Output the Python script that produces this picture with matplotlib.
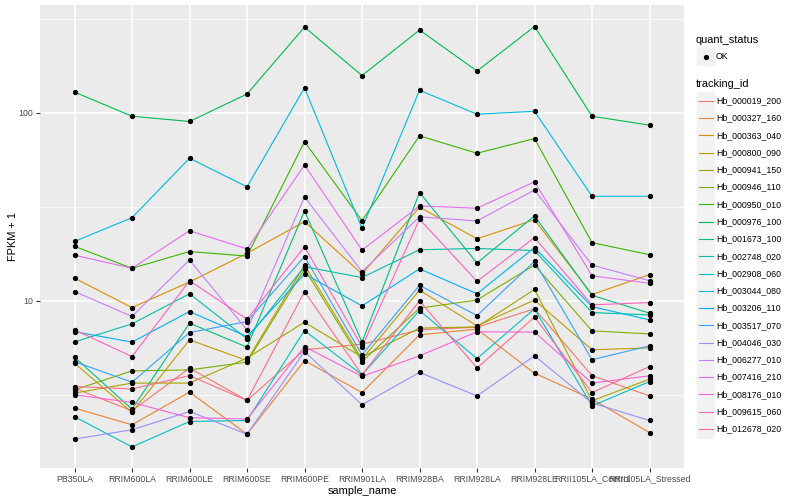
import matplotlib
matplotlib.use('Agg')
import matplotlib.pyplot as plt
from matplotlib.patches import Rectangle
from matplotlib.lines import Line2D
from matplotlib.ticker import FixedLocator, NullFormatter

plt.rcParams['font.family'] = ['Liberation Sans', 'DejaVu Sans']

samples = ['PB350LA', 'RRIM600LA', 'RRIM600LE', 'RRIM600SE', 'RRIM600PE', 'RRIM901LA',
           'RRIM928BA', 'RRIM928LA', 'RRIM928LE', 'RRII105LA_Control', 'RRII105LA_Stressed']

tracking_ids = ['Hb_000019_200', 'Hb_000327_160', 'Hb_000363_040', 'Hb_000800_090',
                'Hb_000941_150', 'Hb_000946_110', 'Hb_000950_010', 'Hb_000976_100',
                'Hb_001673_100', 'Hb_002748_020', 'Hb_002908_060', 'Hb_003044_080',
                'Hb_003206_110', 'Hb_003517_070', 'Hb_004046_030', 'Hb_006277_010',
                'Hb_007416_210', 'Hb_008176_010', 'Hb_009615_060', 'Hb_012678_020']

# FPKM + 1, one list per gene, in sample order
hb_000019_200 = [3.43, 2.60, 4.39, 2.95, 5.49, 5.88, 7.01, 7.24, 9.07, 4.00, 3.12]
hb_000327_160 = [2.69, 2.19, 3.27, 1.95, 4.81, 3.25, 6.59, 7.07, 4.12, 3.00, 1.99]
hb_000363_040 = [13.2, 9.21, 12.6, 17.9, 26.4, 13.9, 31.5, 21.4, 27.0, 10.8, 13.8]
hb_000800_090 = [4.66, 2.55, 6.20, 4.81, 15.5, 4.90, 11.4, 7.36, 10.1, 5.49, 5.62]
hb_000941_150 = [3.23, 3.65, 3.65, 4.96, 7.70, 5.02, 7.16, 7.27, 11.5, 2.94, 3.83]
hb_000946_110 = [3.36, 4.24, 4.29, 4.72, 14.8, 4.75, 9.14, 10.1, 15.5, 6.92, 6.67]
hb_000950_010 = [19.5, 14.9, 18.3, 17.3, 70.3, 26.7, 75.5, 61.0, 73.0, 20.4, 17.6]
hb_000976_100 = [129, 96, 90, 126, 286, 158, 276, 167, 288, 96, 86]
hb_001673_100 = [5.02, 2.65, 7.61, 5.67, 30.1, 6.03, 37.7, 15.9, 28.3, 10.7, 8.60]
hb_002748_020 = [6.05, 7.54, 10.9, 6.28, 15.2, 13.3, 18.7, 19.0, 18.5, 8.66, 8.42]
hb_002908_060 = [2.42, 1.67, 2.28, 2.31, 6.95, 4.04, 8.88, 4.93, 9.07, 2.76, 3.72]
hb_003044_080 = [20.7, 27.7, 57.4, 40.4, 136, 24.3, 132, 98.4, 102, 36.0, 36.0]
hb_003206_110 = [6.86, 6.03, 8.77, 6.46, 13.9, 9.40, 14.8, 10.9, 19.2, 9.32, 7.92]
hb_003517_070 = [4.75, 3.69, 6.78, 7.76, 17.2, 5.16, 12.1, 8.35, 16.2, 4.86, 5.76]
hb_004046_030 = [1.84, 2.06, 2.58, 1.95, 5.37, 2.80, 4.16, 3.12, 5.10, 2.86, 2.31]
hb_006277_010 = [11.2, 8.26, 16.5, 7.00, 35.7, 14.3, 28.0, 26.6, 38.9, 15.5, 12.8]
hb_007416_210 = [17.5, 14.9, 23.6, 18.9, 52.8, 18.6, 32.0, 31.1, 43.0, 13.6, 12.4]
hb_008176_010 = [3.16, 2.88, 2.39, 2.35, 5.71, 3.96, 5.10, 6.84, 6.82, 3.65, 3.99]
hb_009615_060 = [7.01, 5.05, 12.8, 7.99, 19.4, 5.71, 27.2, 12.7, 21.7, 9.52, 9.79]
hb_012678_020 = [3.50, 3.40, 4.00, 2.95, 11.2, 4.04, 10.0, 4.39, 8.19, 3.25, 4.47]

series = [hb_000019_200, hb_000327_160, hb_000363_040, hb_000800_090, hb_000941_150,
          hb_000946_110, hb_000950_010, hb_000976_100, hb_001673_100, hb_002748_020,
          hb_002908_060, hb_003044_080, hb_003206_110, hb_003517_070, hb_004046_030,
          hb_006277_010, hb_007416_210, hb_008176_010, hb_009615_060, hb_012678_020]

# ggplot2 default hue palette for 20 levels
colors = ['#F8766D', '#EA8331', '#D89000', '#C09B00', '#A3A500', '#7CAE00', '#39B600',
          '#00BB4E', '#00BF7D', '#00C1A3', '#00BFC4', '#00BAE0', '#00B0F6', '#35A2FF',
          '#9590FF', '#C77CFF', '#E76BF3', '#FA62DB', '#FF62BC', '#FF6C91']

W, H = 800, 500
fig = plt.figure(figsize=(8, 5), dpi=100)
ax = fig.add_axes([40 / W, 1 - 468 / H, (684 - 40) / W, (468 - 5) / H])
ax.set_facecolor('#EBEBEB')

x = list(range(len(samples)))
for vals, c in zip(series, colors):
    ax.plot(x, vals, color=c, lw=0.8, zorder=3)
for vals in series:
    ax.plot(x, vals, 'o', color='black', ms=2.8, zorder=4)

ax.set_yscale('log')
ax.set_ylim(1.29, 375)
ax.set_xlim(-0.6, len(samples) - 0.4)
ax.yaxis.set_major_locator(FixedLocator([10, 100]))
ax.yaxis.set_minor_locator(FixedLocator([10 ** 0.5, 10 ** 1.5, 10 ** 2.5]))
ax.yaxis.set_minor_formatter(NullFormatter())
ax.set_yticklabels(['10', '100'])
ax.set_xticks(x)
ax.set_xticklabels(samples)

ax.grid(which='major', color='white', lw=1.1)
ax.grid(which='minor', axis='y', color='white', lw=0.55)
ax.set_axisbelow(True)
for s in ax.spines.values():
    s.set_visible(False)
ax.tick_params(which='major', length=2.75, width=0.8, color='#333333',
               labelsize=6.3, labelcolor='#4D4D4D', pad=2)
ax.tick_params(which='minor', length=0)
ax.set_xlabel('sample_name', fontsize=7.9, labelpad=1.5)
ax.set_ylabel('FPKM + 1', fontsize=7.9, labelpad=0.5)

# legends drawn by hand, ggplot style
def fx(px):
    return px / W


def fy(py):
    return 1 - py / H


key_w, key_h = 17, 17.28
fig.text(fx(696), fy(40), 'quant_status', fontsize=7.9, va='center', ha='left')
fig.patches.append(Rectangle((fx(697), fy(56.7 + key_h / 2)), key_w / W, key_h / H,
                             transform=fig.transFigure, color='#F2F2F2', zorder=1))
fig.lines.append(Line2D([fx(697 + key_w / 2)], [fy(56.7)], marker='o', ms=2.8, color='black',
                        transform=fig.transFigure))
fig.text(fx(716), fy(56.7), 'OK', fontsize=6.3, va='center', ha='left')

fig.text(fx(696), fy(84), 'tracking_id', fontsize=7.9, va='center', ha='left')
for i, (name, c) in enumerate(zip(tracking_ids, colors)):
    yc = 100.7 + i * key_h
    fig.patches.append(Rectangle((fx(697), fy(yc + key_h / 2)), key_w / W, key_h / H,
                                 transform=fig.transFigure, color='#F2F2F2', zorder=1))
    fig.lines.append(Line2D([fx(698.5), fx(697 + key_w - 1.5)], [fy(yc), fy(yc)], color=c,
                            lw=0.8, transform=fig.transFigure))
    fig.text(fx(716), fy(yc), name, fontsize=6.3, va='center', ha='left')

fig.savefig('out.png', dpi=100)
